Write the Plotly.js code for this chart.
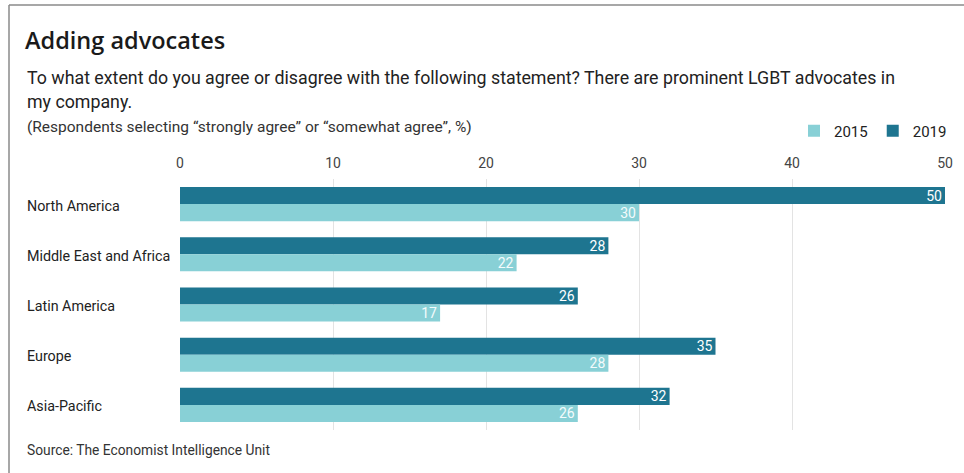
<!DOCTYPE html>
<html>
<head>
<meta charset="utf-8">
<script src="https://cdn.plot.ly/plotly-3.0.1.min.js"></script>
<style>
  html, body { margin: 0; padding: 0; background: #fff; }
  #chart { width: 964px; height: 473px; }
</style>
</head>
<body>
<div id="chart"></div>
<script>
const categories = ['North America', 'Middle East and Africa', 'Latin America', 'Europe', 'Asia-Pacific'];
const values2019 = [50, 28, 26, 35, 32];
const values2015 = [30, 22, 17, 28, 26];
const xTicks = [0, 10, 20, 30, 40, 50];

const titleText = 'Adding advocates';
const subtitleLine1 = 'To what extent do you agree or disagree with the following statement? There are prominent LGBT advocates in';
const subtitleLine2 = 'my company.';
const noteText = '(Respondents selecting \u201cstrongly agree\u201d or \u201csomewhat agree\u201d, %)';
const sourceText = 'Source: The Economist Intelligence Unit';

const W = 964, H = 473;
const M = {l: 180, r: 19, t: 179, b: 43};
const pw = W - M.l - M.r, ph = H - M.t - M.b;
const px = x => (x - M.l) / pw;
const py = y => (H - M.b - y) / ph;

const bodyFont = 'Roboto, "Liberation Sans", sans-serif';
const textColor = '#222222';

const darkTeal = '#1e7590';
const lightTeal = '#88d0d6';

const traces = [
  {
    type: 'bar', orientation: 'h', name: '2019',
    y: categories, x: values2019,
    marker: {color: darkTeal},
    text: values2019.map(String),
    textposition: 'inside', insidetextanchor: 'end', textangle: 0,
    constraintext: 'none', cliponaxis: false,
    textfont: {family: bodyFont, size: 14, color: '#ffffff'},
    hoverinfo: 'x+y'
  },
  {
    type: 'bar', orientation: 'h', name: '2015',
    y: categories, x: values2015,
    marker: {color: lightTeal},
    text: values2015.map(String),
    textposition: 'inside', insidetextanchor: 'end', textangle: 0,
    constraintext: 'none', cliponaxis: false,
    textfont: {family: bodyFont, size: 14, color: '#f4fbfc'},
    hoverinfo: 'x+y'
  }
];

const annotations = [
  {text: subtitleLine1, x: px(25), y: py(78)},
  {text: subtitleLine2, x: px(25), y: py(101)},
].map(a => Object.assign({xref: 'paper', yref: 'paper', xanchor: 'left', yanchor: 'middle', showarrow: false,
  font: {family: bodyFont, size: 17.8, color: textColor}}, a));

annotations.push({text: noteText, x: px(25), y: py(127), xref: 'paper', yref: 'paper', xanchor: 'left', yanchor: 'middle',
  showarrow: false, font: {family: bodyFont, size: 15.5, color: '#333333'}});
annotations.push({text: sourceText, x: px(25), y: py(450), xref: 'paper', yref: 'paper', xanchor: 'left', yanchor: 'middle',
  showarrow: false, font: {family: bodyFont, size: 13.8, color: '#333333'}});

categories.forEach(c => {
  annotations.push({text: c, x: px(25), y: c, xref: 'paper', yref: 'y', xanchor: 'left', yanchor: 'middle',
    yshift: -1.5, showarrow: false, font: {family: bodyFont, size: 14.3, color: textColor}});
});

const layout = {
  width: W, height: H,
  margin: M,
  paper_bgcolor: '#ffffff', plot_bgcolor: '#ffffff',
  title: {
    text: titleText, xref: 'container', yref: 'container',
    x: 25 / W, xanchor: 'left', y: 1 - 41 / H, yanchor: 'middle',
    font: {family: '"Open Sans", Lato, sans-serif', size: 23.5, color: '#1a1a1a', weight: 600}
  },
  barmode: 'group', bargap: 0.32, bargroupgap: 0,
  xaxis: {
    side: 'top', range: [0, 50], tickvals: xTicks, ticktext: xTicks.map(String),
    showgrid: true, gridcolor: '#e3e3e3', gridwidth: 1, zeroline: false,
    showline: false, ticks: '', ticklabelstandoff: 7,
    tickfont: {family: bodyFont, size: 14, color: '#444444'}, fixedrange: true
  },
  yaxis: {
    type: 'category', categoryorder: 'array', categoryarray: categories,
    autorange: 'reversed', showticklabels: false, showgrid: false, zeroline: false,
    ticks: '', showline: false, fixedrange: true
  },
  showlegend: true,
  legend: {
    orientation: 'h', traceorder: 'reversed',
    x: px(952), xanchor: 'right', y: py(131), yanchor: 'middle',
    font: {family: bodyFont, size: 15, color: textColor},
    bgcolor: 'rgba(0,0,0,0)'
  },
  annotations: annotations,
  shapes: [
    {type: 'line', xref: 'paper', yref: 'paper', x0: px(9), x1: px(964), y0: py(5), y1: py(5),
      line: {color: '#8a8a8a', width: 1.5}},
    {type: 'line', xref: 'paper', yref: 'paper', x0: px(9), x1: px(9), y0: py(5), y1: py(473),
      line: {color: '#8a8a8a', width: 1.5}}
  ]
};

Plotly.newPlot('chart', traces, layout, {displayModeBar: false, staticPlot: true});
</script>
</body>
</html>
